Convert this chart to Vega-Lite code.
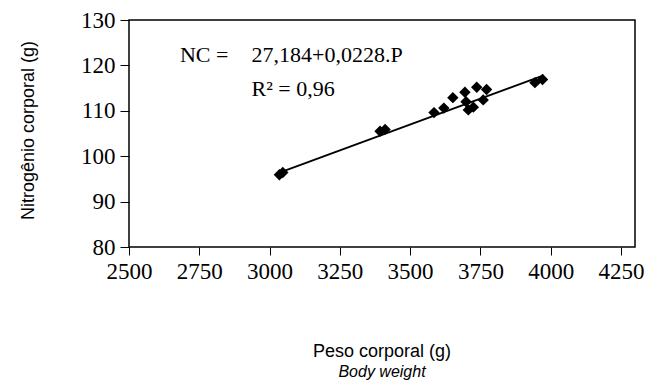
{
  "$schema": "https://vega.github.io/schema/vega-lite/v6.json",
  "width": 506,
  "height": 227,
  "autosize": {"type": "none"},
  "padding": {"left": 129, "top": 20, "right": 16, "bottom": 138},
  "background": "white",
  "title": {
    "text": "Peso corporal (g)",
    "subtitle": "Body weight",
    "orient": "bottom",
    "anchor": "middle",
    "frame": "group",
    "offset": 60,
    "font": "Liberation Sans",
    "fontSize": 18,
    "fontWeight": "normal",
    "color": "black",
    "subtitleFont": "Liberation Sans",
    "subtitleFontSize": 16,
    "subtitleFontStyle": "italic",
    "subtitleColor": "black",
    "subtitlePadding": 3
  },
  "config": {
    "view": {"stroke": "black", "strokeWidth": 1.5},
    "axis": {"labelFont": "Liberation Serif", "labelFontSize": 23, "labelColor": "black", "grid": false, "domain": false, "tickColor": "black"}
  },
  "encoding": {
    "x": {
      "field": "x", "type": "quantitative",
      "scale": {"domain": [2500, 4300], "nice": false, "zero": false},
      "axis": {
        "orient": "bottom", "grid": false, "domain": false,
        "values": [2500, 2750, 3000, 3250, 3500, 3750, 4000, 4250],
        "format": "d", "labelOverlap": false, "labelFlush": false,
        "labelFont": "Liberation Serif", "labelFontSize": 23, "labelColor": "black",
        "tickColor": "black", "tickSize": 8, "labelPadding": 5,
        "title": null
      }
    },
    "y": {
      "field": "y", "type": "quantitative",
      "scale": {"domain": [80, 130], "nice": false, "zero": false},
      "axis": {
        "orient": "left", "grid": false, "domain": false,
        "values": [80, 90, 100, 110, 120, 130],
        "format": "d", "labelOverlap": false, "labelFlush": false,
        "labelFont": "Liberation Serif", "labelFontSize": 23, "labelColor": "black",
        "tickColor": "black", "tickSize": 9, "labelPadding": 5,
        "title": "Nitrogênio corporal (g)", "titleFont": "Liberation Sans", "titleFontWeight": "normal",
        "titleColor": "black", "titleFontSize": 18,
        "titleBaseline": "alphabetic", "titleX": -96, "titleY": 110
      }
    }
  },
  "layer": [
    {
      "data": {"values": [
        {"x": 3035, "y": 95.9},
        {"x": 3047, "y": 96.4},
        {"x": 3393, "y": 105.5},
        {"x": 3411, "y": 105.9},
        {"x": 3585, "y": 109.6},
        {"x": 3620, "y": 110.6},
        {"x": 3652, "y": 112.9},
        {"x": 3695, "y": 114.1},
        {"x": 3707, "y": 110.2},
        {"x": 3699, "y": 112.0},
        {"x": 3725, "y": 110.8},
        {"x": 3737, "y": 115.2},
        {"x": 3760, "y": 112.4},
        {"x": 3772, "y": 114.7},
        {"x": 3944, "y": 116.2},
        {"x": 3971, "y": 116.9}
      ]},
      "mark": {"type": "point", "shape": "diamond", "filled": true, "color": "black", "size": 130, "opacity": 1}
    },
    {
      "data": {"values": [{"x": 3045, "y": 96.61}, {"x": 3975, "y": 117.81}]},
      "mark": {"type": "line", "color": "black", "strokeWidth": 1.8}
    },
    {
      "data": {"values": [
        {"x": 2681, "y": 120.7, "label": "NC ="},
        {"x": 2936, "y": 120.7, "label": "27,184+0,0228.P"},
        {"x": 2936, "y": 113.3, "label": "R² = 0,96"}
      ]},
      "mark": {"type": "text", "align": "left", "baseline": "alphabetic", "font": "Liberation Serif", "fontSize": 22, "color": "black"},
      "encoding": {
        "text": {"field": "label"}
      }
    },
    {
      "data": {"values": [{"label": "Body nitrogen"}]},
      "mark": {"type": "text", "angle": 270, "align": "center", "baseline": "alphabetic", "font": "Liberation Sans", "fontSize": 16, "fontStyle": "italic", "color": "black"},
      "encoding": {
        "x": {"datum": 2212, "type": "quantitative"},
        "y": {"datum": 102.5, "type": "quantitative"},
        "text": {"field": "label"}
      }
    }
  ]
}
